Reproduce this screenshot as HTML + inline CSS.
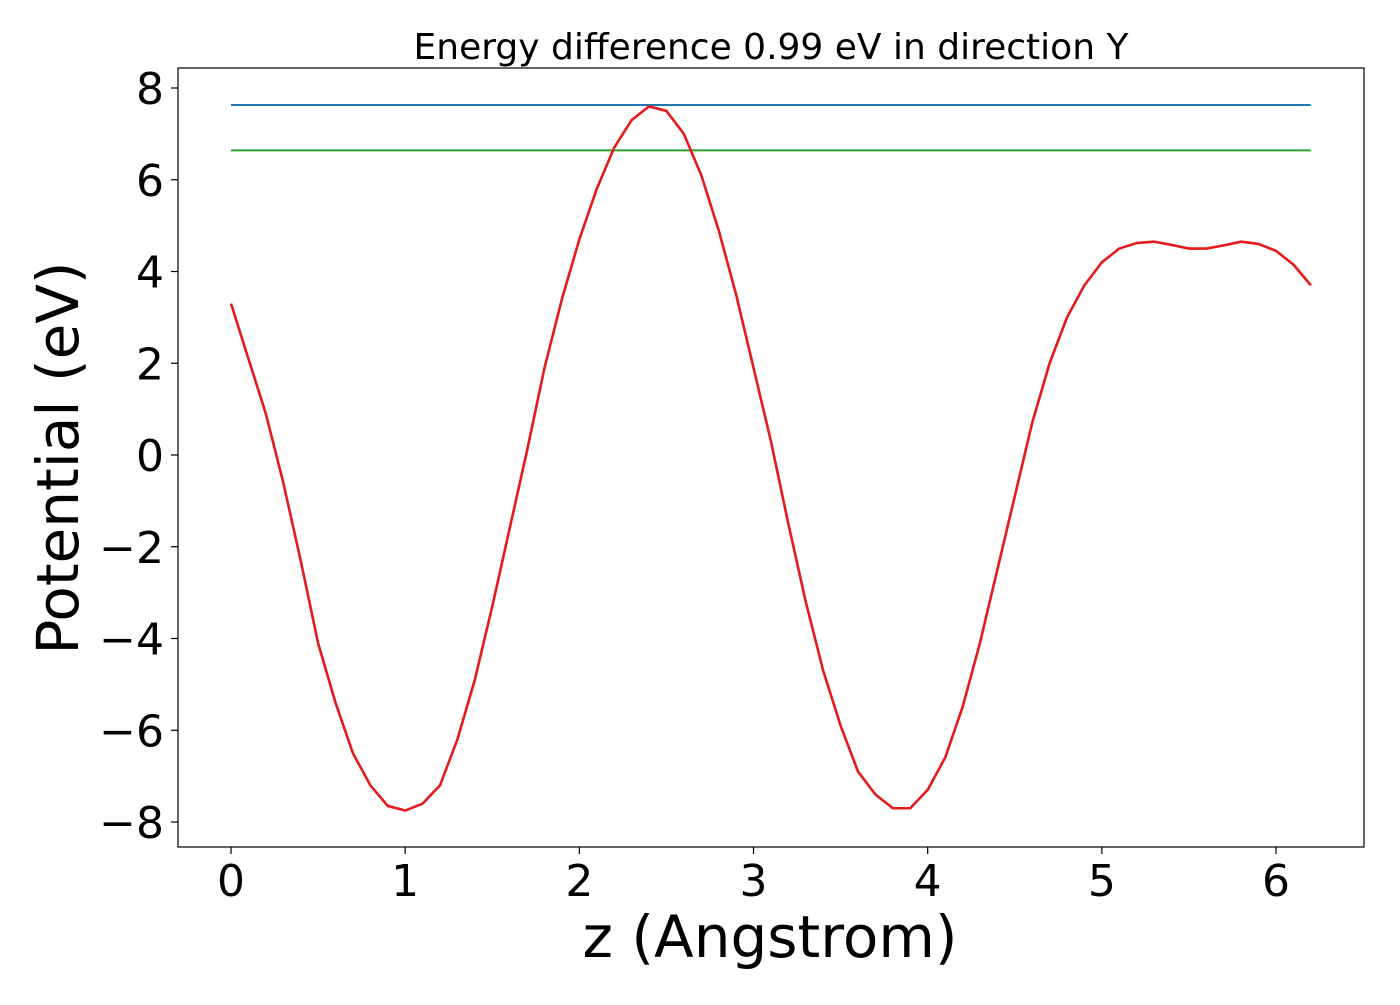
<!DOCTYPE html>
<html><head><meta charset="utf-8"><style>
body{margin:0;background:#fff;}
svg text{font-family:"DejaVu Sans","Liberation Sans",sans-serif;fill:#000;}
</style></head><body>
<svg id="chart" width="1400" height="1000" xmlns="http://www.w3.org/2000/svg">
<rect width="1400" height="1000" fill="#fff"/>
<g id="plot"></g>
<rect x="178" y="68" width="1186" height="779" fill="none" stroke="#000" stroke-width="1.2"/>
<text x="771" y="59" font-size="36" text-anchor="middle">Energy difference 0.99 eV in direction Y</text>
<text x="770" y="957" font-size="58" text-anchor="middle">z (Angstrom)</text>
<text transform="translate(78,458) rotate(-90)" font-size="58" text-anchor="middle">Potential (eV)</text>
</svg>
<script>
const xs=[0,0.1,0.2,0.3,0.4,0.5,0.6,0.7,0.8,0.9,1.0,1.1,1.2,1.3,1.4,1.5,1.6,1.7,1.8,1.9,2.0,2.1,2.2,2.3,2.4,2.5,2.6,2.7,2.8,2.9,3.0,3.1,3.2,3.3,3.4,3.5,3.6,3.7,3.8,3.9,4.0,4.1,4.2,4.3,4.4,4.5,4.6,4.7,4.8,4.9,5.0,5.1,5.2,5.3,5.4,5.5,5.6,5.7,5.8,5.9,6.0,6.1,6.2];
const potential=[3.3,2.1,0.9,-0.6,-2.3,-4.1,-5.4,-6.5,-7.2,-7.65,-7.75,-7.6,-7.2,-6.2,-4.9,-3.3,-1.6,0.1,1.9,3.4,4.7,5.8,6.7,7.3,7.6,7.5,7.0,6.1,4.9,3.5,1.9,0.3,-1.5,-3.2,-4.7,-5.9,-6.9,-7.4,-7.7,-7.7,-7.3,-6.6,-5.5,-4.1,-2.5,-0.9,0.7,2.0,3.0,3.7,4.2,4.5,4.62,4.65,4.58,4.5,4.5,4.57,4.65,4.6,4.45,4.15,3.7];
const hlines=[7.63,6.64];
const hcolors=['#1f77b4','#2ca02c'];
const hrange=[0,6.2];
const xticks=[0,1,2,3,4,5,6];
const yticks=[-8,-6,-4,-2,0,2,4,6,8];
const X=v=>231+v*174.17;
const Y=v=>455-v*45.875;
const NS='http://www.w3.org/2000/svg';
const g=document.getElementById('plot');
function mk(t,a){const e=document.createElementNS(NS,t);for(const k in a)e.setAttribute(k,a[k]);g.appendChild(e);return e;}
xticks.forEach(t=>{
 const l=mk('line',{x1:X(t),x2:X(t),y1:847,y2:854,stroke:'#000','stroke-width':1.2});
 
 
 const tx=mk('text',{x:X(t),y:896,'font-size':44,'text-anchor':'middle'});tx.textContent=t;
 
 
});
yticks.forEach(t=>{
 const l=mk('line',{x1:171,x2:178,y1:Y(t),y2:Y(t),stroke:'#000','stroke-width':1.2});
 
 
 const tx=mk('text',{x:164,y:Y(t)+16,'font-size':44,'text-anchor':'end'});tx.textContent=(t<0?'\u2212'+(-t):t);
 
 
});
hlines.forEach((v,i)=>{
 const l=mk('line',{x1:X(hrange[0]),x2:X(hrange[1]),y1:Y(v),y2:Y(v),stroke:hcolors[i],'stroke-width':2});
 
 
});
const p=mk('polyline',{points:xs.map((x,i)=>X(x)+','+Y(potential[i])).join(' '),fill:'none',stroke:'#e41a1c','stroke-width':2.6,'stroke-linejoin':'round'});


</script>
</body></html>
